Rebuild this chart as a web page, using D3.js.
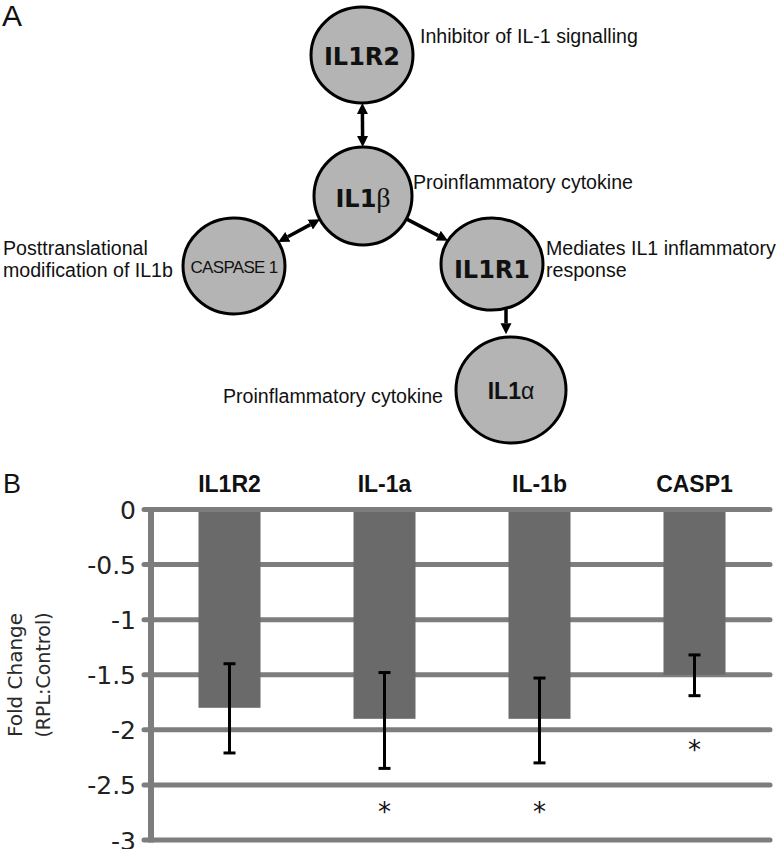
<!DOCTYPE html>
<html>
<head>
<meta charset="utf-8">
<script src="https://cdn.jsdelivr.net/npm/d3@7/dist/d3.min.js"></script>
<style>
  html, body { margin: 0; padding: 0; background: #fff; }
  svg { display: block; }
</style>
</head>
<body>
<svg id="chart" width="784" height="849"></svg>
<script>
// ---------------- DATA ----------------
// Panel A: network nodes and annotations
const nodeIds      = ["IL1R2", "IL1b", "CASP", "IL1R1", "IL1a"];
const nodeLabels   = ["IL1R2", "IL1", "CASPASE 1", "IL1R1", "IL1"];
const nodeGreek    = ["", "β", "", "", "α"];
const edgeSources  = ["IL1R2", "IL1b", "IL1b", "IL1R1"];
const edgeTargets  = ["IL1b", "CASP", "IL1R1", "IL1a"];
const edgeDouble   = [true, true, false, false];
const annotations  = [
  ["Inhibitor of IL-1 signalling"],
  ["Proinflammatory cytokine"],
  ["Posttranslational", "modification of IL1b"],
  ["Mediates IL1 inflammatory", "response"],
  ["Proinflammatory cytokine"]
];

// Panel B: bar chart
const categories   = ["IL1R2", "IL-1a", "IL-1b", "CASP1"];
const foldChange   = [-1.80, -1.90, -1.90, -1.50];
const errUpper     = [-1.40, -1.48, -1.53, -1.32];
const errLower     = [-2.21, -2.35, -2.30, -1.69];
const significant  = [false, true, true, true];
const asteriskAt   = [null, -2.70, -2.70, -2.14];
const yTicks       = [0, -0.5, -1, -1.5, -2, -2.5, -3];
const yTitle       = ["Fold Change", "(RPL:Control)"];

// ---------------- LAYOUT (positions / styles) ----------------
const nodeLayout = {
  IL1R2: { cx: 362, cy: 55,  rx: 51, ry: 48, font: "DejaVu Sans", size: 24, weight: "bold", ty: 56 },
  IL1b:  { cx: 363, cy: 196, rx: 49, ry: 49, font: "DejaVu Sans", size: 24, weight: "bold", ty: 198 },
  CASP:  { cx: 234, cy: 266, rx: 51, ry: 48, font: "Liberation Sans", size: 17, weight: "normal", ty: 267 },
  IL1R1: { cx: 492, cy: 264, rx: 51, ry: 46, font: "DejaVu Sans", size: 24, weight: "bold", ty: 269 },
  IL1a:  { cx: 511, cy: 390, rx: 55, ry: 53, font: "Liberation Sans", size: 23, weight: "bold", ty: 391 }
};
const annLayout = [
  { x: 420, y: 43 },
  { x: 413, y: 189 },
  { x: 3,   y: 255 },
  { x: 546, y: 255 },
  { x: 223, y: 403 }
];
const annFont = 19.6, annLine = 22;

const svg = d3.select("#chart");

// ---------------- PANEL A ----------------
svg.append("text").attr("x", 2).attr("y", 26)
  .attr("font-family", "Liberation Sans").attr("font-size", 30).attr("fill", "#111").text("A");

const defs = svg.append("defs");
defs.append("marker").attr("id", "head")
  .attr("viewBox", "0 -6 11 12").attr("refX", 0).attr("refY", 0)
  .attr("markerUnits", "userSpaceOnUse").attr("markerWidth", 11).attr("markerHeight", 12)
  .attr("orient", "auto-start-reverse")
  .append("path").attr("d", "M0,-5.5L11,0L0,5.5Z").attr("fill", "#000");

// boundary point of an ellipse node in direction (dx,dy)
function boundary(n, dx, dy) {
  const t = 1 / Math.sqrt((dx * dx) / (n.rx * n.rx) + (dy * dy) / (n.ry * n.ry));
  return [n.cx + dx * t, n.cy + dy * t];
}
const headLen = 11;
const edgeG = svg.append("g");
edgeSources.forEach((s, i) => {
  const a = nodeLayout[s], b = nodeLayout[edgeTargets[i]];
  let p0, p1;
  if (s === "IL1R1") {
    // vertical connector
    const x = 506;
    const y0 = a.cy + a.ry * Math.sqrt(1 - ((x - a.cx) / a.rx) ** 2);
    const y1 = b.cy - b.ry * Math.sqrt(1 - ((x - b.cx) / b.rx) ** 2) - 3;
    p0 = [x, y0]; p1 = [x, y1];
  } else {
    const dx = b.cx - a.cx, dy = b.cy - a.cy;
    p0 = boundary(a, dx, dy); p1 = boundary(b, -dx, -dy);
  }
  const L = Math.hypot(p1[0] - p0[0], p1[1] - p0[1]);
  const ux = (p1[0] - p0[0]) / L, uy = (p1[1] - p0[1]) / L;
  const s0 = edgeDouble[i] ? headLen : 0;
  const line = edgeG.append("line")
    .attr("x1", p0[0] + ux * s0).attr("y1", p0[1] + uy * s0)
    .attr("x2", p1[0] - ux * headLen).attr("y2", p1[1] - uy * headLen)
    .attr("stroke", "#000").attr("stroke-width", 3.5)
    .attr("marker-end", "url(#head)");
  if (edgeDouble[i]) line.attr("marker-start", "url(#head)");
});

const nodeG = svg.append("g").selectAll("g").data(nodeIds).join("g");
nodeG.append("ellipse")
  .attr("cx", d => nodeLayout[d].cx).attr("cy", d => nodeLayout[d].cy)
  .attr("rx", d => nodeLayout[d].rx).attr("ry", d => nodeLayout[d].ry)
  .attr("fill", "#b4b4b4").attr("stroke", "#000").attr("stroke-width", 3);
const nodeText = nodeG.append("text")
  .attr("x", d => nodeLayout[d].cx).attr("y", d => nodeLayout[d].ty)
  .attr("dy", "0.36em").attr("text-anchor", "middle")
  .attr("font-family", d => nodeLayout[d].font)
  .attr("font-size", d => nodeLayout[d].size)
  .attr("font-weight", d => nodeLayout[d].weight)
  .attr("letter-spacing", d => d === "CASP" ? -0.7 : 0)
  .attr("fill", "#111");
nodeText.append("tspan").text((d, i) => nodeLabels[i]);
nodeText.append("tspan")
  .attr("font-weight", "normal")
  .attr("font-family", d => d === "IL1b" ? "Liberation Serif" : "Liberation Sans")
  .attr("font-size", d => d === "IL1b" ? 28 : 23)
  .text((d, i) => nodeGreek[i]);

const annG = svg.append("g").attr("font-family", "Liberation Sans").attr("font-size", annFont).attr("fill", "#111");
annotations.forEach((lines, i) => {
  const t = annG.append("text").attr("x", annLayout[i].x).attr("y", annLayout[i].y);
  lines.forEach((ln, j) => t.append("tspan").attr("x", annLayout[i].x).attr("dy", j === 0 ? 0 : annLine).text(ln));
});

// ---------------- PANEL B ----------------
svg.append("text").attr("x", 3).attr("y", 493)
  .attr("font-family", "Liberation Sans").attr("font-size", 27).attr("fill", "#111").text("B");

const plotLeft = 152, plotRight = 772;
const y = d3.scaleLinear().domain([0, -3]).range([509.5, 840]);
const x = d3.scaleBand().domain(categories).range([plotLeft, plotRight])
  .paddingInner(0.6).paddingOuter(0.3);

const gridColor = "#7d7d7d";
// gridlines
svg.append("g").selectAll("line").data(yTicks).join("line")
  .attr("x1", 144).attr("x2", plotRight - 2)
  .attr("y1", d => y(d)).attr("y2", d => y(d))
  .attr("stroke", gridColor).attr("stroke-width", 5).attr("stroke-linecap", "round");
// vertical axis line
svg.append("line").attr("x1", 151).attr("x2", 151)
  .attr("y1", y(0) - 2.5).attr("y2", y(-3) + 2.5)
  .attr("stroke", gridColor).attr("stroke-width", 6);

// bars
svg.append("g").selectAll("rect").data(categories).join("rect")
  .attr("x", d => x(d)).attr("width", x.bandwidth())
  .attr("y", y(0) + 2.5)
  .attr("height", (d, i) => y(foldChange[i]) - y(0) - 2.5)
  .attr("fill", "#6a6a6a");

// y axis tick labels
const yAxis = d3.axisLeft(y).tickValues(yTicks).tickSize(0).tickPadding(0)
  .tickFormat(d => String(d));
const yAxisG = svg.append("g").attr("transform", "translate(136,0)").call(yAxis);
yAxisG.select(".domain").remove();
yAxisG.selectAll("text")
  .attr("font-family", "DejaVu Sans").attr("font-size", 25).attr("fill", "#222")
  .attr("dy", "0.36em");

// y axis title
const titleG = svg.append("g").attr("font-family", "DejaVu Sans").attr("fill", "#2a2a2a");
titleG.append("text").attr("transform", "translate(22,675) rotate(-90)")
  .attr("text-anchor", "middle").attr("font-size", 20).text(yTitle[0]);
titleG.append("text").attr("transform", "translate(50,675) rotate(-90)")
  .attr("text-anchor", "middle").attr("font-size", 19).text(yTitle[1]);

// category labels
svg.append("g").selectAll("text").data(categories).join("text")
  .attr("x", d => x(d) + x.bandwidth() / 2).attr("y", 492)
  .attr("text-anchor", "middle")
  .attr("font-family", "Liberation Sans").attr("font-weight", "bold").attr("font-size", 23)
  .attr("fill", "#111").text(d => d);

// error bars
const capW = 12;
const errG = svg.append("g").attr("stroke", "#000").attr("stroke-width", 3);
categories.forEach((c, i) => {
  const cx = x(c) + x.bandwidth() / 2;
  errG.append("line").attr("x1", cx).attr("x2", cx).attr("y1", y(errUpper[i])).attr("y2", y(errLower[i]));
  errG.append("line").attr("x1", cx - capW / 2).attr("x2", cx + capW / 2).attr("y1", y(errUpper[i])).attr("y2", y(errUpper[i]));
  errG.append("line").attr("x1", cx - capW / 2).attr("x2", cx + capW / 2).attr("y1", y(errLower[i])).attr("y2", y(errLower[i]));
});

// significance asterisks
svg.append("g").selectAll("text").data(categories.filter((c, i) => significant[i])).join("text")
  .attr("x", d => x(d) + x.bandwidth() / 2)
  .attr("y", d => y(asteriskAt[categories.indexOf(d)]) + 14)
  .attr("text-anchor", "middle")
  .attr("font-family", "DejaVu Sans").attr("font-size", 26).attr("fill", "#111")
  .text("*");
</script>
</body>
</html>
